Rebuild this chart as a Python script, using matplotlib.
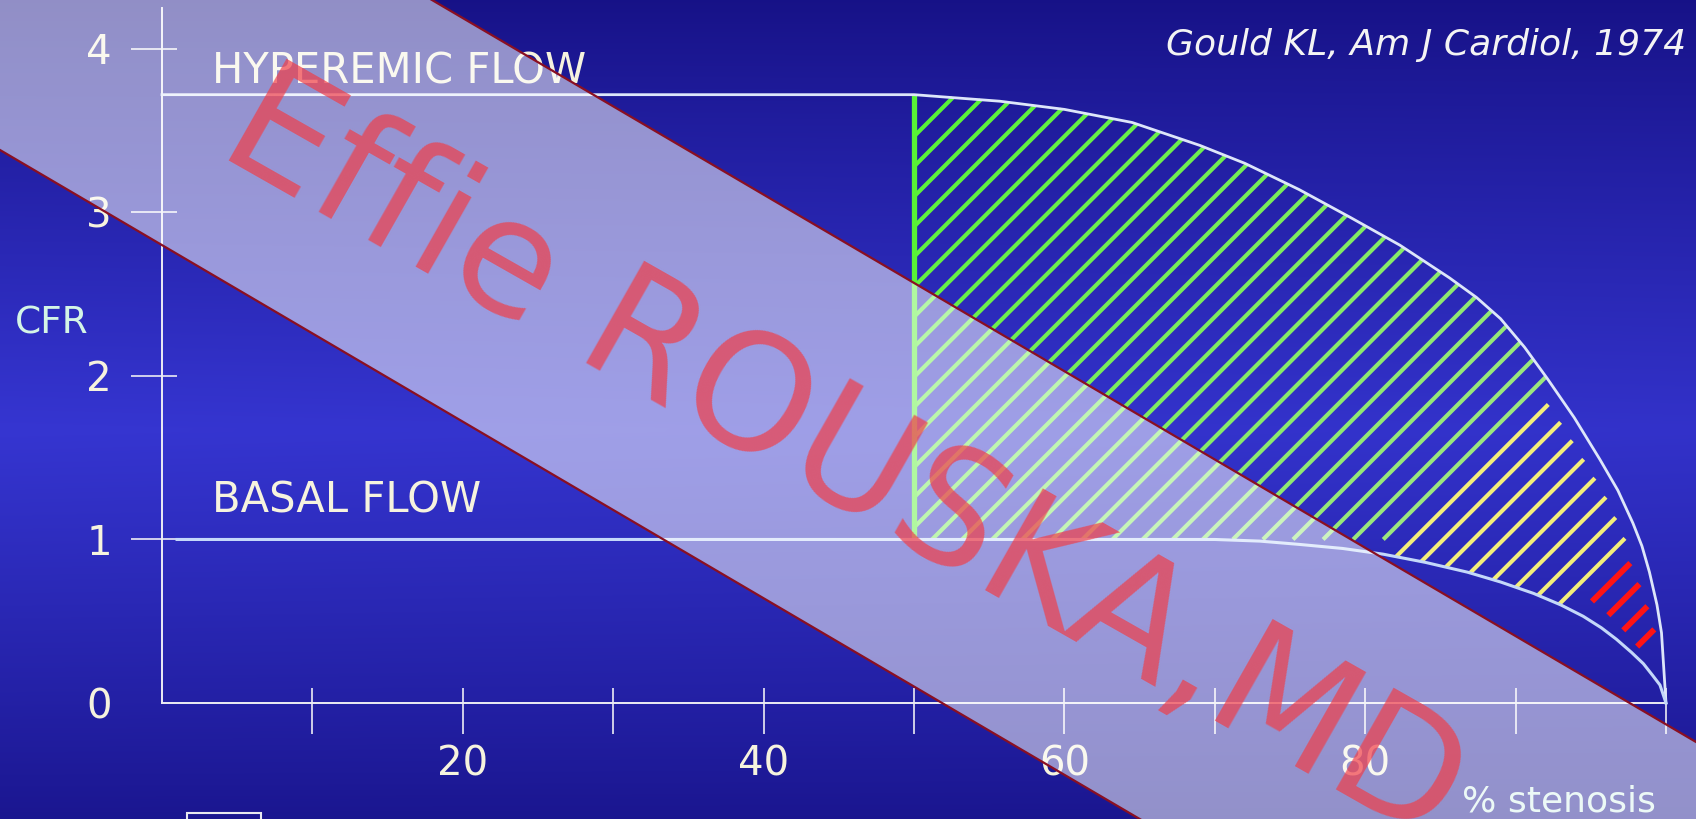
import numpy as np
import matplotlib
matplotlib.use("Agg")
import matplotlib.pyplot as plt
from matplotlib.collections import LineCollection
from matplotlib.colors import to_rgb
from matplotlib.patches import Polygon, Rectangle
from matplotlib.lines import Line2D
from matplotlib.ticker import FixedLocator

# hyperemic (maximal) flow reserve vs. % diameter stenosis
hyper_x = [0, 50, 55.7, 60, 64.5, 69, 72, 75.6, 79, 82.3, 85.6, 87.4, 89, 90.6, 92.1,
           93.9, 95.6, 96.8, 97.8, 98.4, 98.9, 99.4, 99.7, 100]
hyper_y = [3.72, 3.72, 3.68, 3.63, 3.55, 3.41, 3.30, 3.14, 2.97, 2.80, 2.60, 2.48, 2.35, 2.175, 1.985,
           1.745, 1.49, 1.30, 1.10, 0.96, 0.80, 0.60, 0.43, 0.0]

# basal (resting) flow
basal_x = [1, 50, 70, 73, 75.6, 78.5, 81.2, 84, 86.8, 89, 91.2, 93, 94.5, 95.7, 96.7,
           97.7, 98.5, 99.1, 99.6, 100]
basal_y = [1.0, 1.0, 1.0, 0.99, 0.97, 0.945, 0.91, 0.86, 0.80, 0.74, 0.67, 0.60, 0.53, 0.46, 0.39,
           0.31, 0.24, 0.17, 0.11, 0.0]

x_ticks = [10, 20, 30, 40, 50, 60, 70, 80, 90, 100]
x_labels = ["", "20", "", "40", "", "60", "", "80", "", ""]
y_ticks = [0, 1, 2, 3, 4]
y_labels = ["0", "1", "2", "3", "4"]

stenosis_cut = 50  # hatching starts at a 50 % stenosis

W, H, DPI = 1696, 819, 100
fig = plt.figure(figsize=(W / DPI, H / DPI), dpi=DPI)


def fx(px):
    return px / W


def fy(py):
    return 1 - py / H


# slide background: blue, brightest a little below the middle
bg = fig.add_axes([0, 0, 1, 1], zorder=-10)
bg.axis("off")
gy = np.linspace(0, H, 200)[:, None]
gx = np.linspace(0, W, 300)[None, :]
f = np.clip(1 - np.abs(gy - 430) / 430, 0, 1) ** 0.9 * (1 - 0.10 * gx / W)
dark = np.array([0.09, 0.07, 0.53])
light = np.array([0.21, 0.21, 0.82])
grad = dark + f[..., None] * (light - dark)
bg.imshow(grad, aspect="auto", extent=[0, 1, 0, 1], origin="upper", interpolation="bilinear")
bg.set_xlim(0, 1)
bg.set_ylim(0, 1)

ax = fig.add_axes([fx(162), fy(703), fx(1666 - 162), (703 - 8) / H])
ax.set_facecolor("none")
ax.set_xlim(0, 100)
ax.set_ylim(0, 4.25)
for s in ["top", "right"]:
    ax.spines[s].set_visible(False)
for s in ["left", "bottom"]:
    ax.spines[s].set_color("#ececf4")
    ax.spines[s].set_linewidth(1.4)

txt = "#f6f3de"
ax.xaxis.set_major_locator(FixedLocator(x_ticks))
ax.xaxis.set_minor_locator(FixedLocator(x_ticks))
ax.yaxis.set_major_locator(FixedLocator(y_ticks))
ax.yaxis.set_minor_locator(FixedLocator(y_ticks[1:]))
ax.xaxis.remove_overlapping_locs = False
ax.yaxis.remove_overlapping_locs = False
ax.set_xticklabels(x_labels)
ax.set_yticklabels(y_labels)
ax.tick_params(which="major", direction="out", length=22, width=1.2, color="#ececf4",
               labelsize=29, labelcolor=txt)
ax.tick_params(which="minor", direction="in", length=11, width=1.2, color="#ececf4")
ax.tick_params(axis="x", which="major", pad=8)
ax.tick_params(axis="y", which="major", pad=14)
ax.yaxis.get_major_ticks()[0].tick1line.set_visible(False)

# flow curves
ax.plot(hyper_x, hyper_y, color="#dde6fa", lw=2.0, clip_on=False, zorder=4)
ax.plot(basal_x, basal_y, color="#c4d8fa", lw=2.2, clip_on=False, zorder=4)

# 45 degree hatching between the curves beyond the cut-off
p0 = ax.transData.transform((0, 0))
p1 = ax.transData.transform((1, 1))
sx, sy = p1[0] - p0[0], p1[1] - p0[1]
slope = sx / sy

xs = np.linspace(stenosis_cut, 100, 5001)
hy = np.interp(xs, hyper_x, hyper_y)
by = np.interp(xs, basal_x, basal_y)


def crossing(a, curve):
    d = 1 + slope * (xs - a) - curve
    i = int(np.argmax(d >= 0))
    if i == 0:
        return None
    return xs[i - 1] + (xs[i] - xs[i - 1]) * (-d[i - 1]) / (d[i] - d[i - 1])


anchors = np.arange(23.2, 106, 2.0)
green_a, green_b = np.array(to_rgb("#58f236")), np.array(to_rgb("#9ce67e"))
n_green = int(np.sum(anchors < 82))
segs, cols, lws = [], [], []
for k, a in enumerate(anchors):
    x_hi = crossing(a, hy)
    if x_hi is None:
        continue
    if a < 82:
        x_lo = max(stenosis_cut, a)
        t = k / max(n_green - 1, 1)
        c = green_a + (green_b - green_a) * t
        lw = 3.0
    else:
        x_lo = crossing(a, by)
        if a < 98:
            c = to_rgb("#f4ee7a")
            lw = 3.0
            x_hi -= 10 / sx
        else:
            c = to_rgb("#ff1414")
            lw = 4.2
            span = x_hi - x_lo
            x_lo, x_hi = x_lo + 0.2 * span, x_hi - 0.2 * span
    segs.append([(x_lo, 1 + slope * (x_lo - a)), (x_hi, 1 + slope * (x_hi - a))])
    cols.append(c)
    lws.append(lw)
ax.add_collection(LineCollection(segs, colors=cols, linewidths=lws, capstyle="butt", zorder=3))
ax.plot([stenosis_cut, stenosis_cut], [1, np.interp(stenosis_cut, hyper_x, hyper_y)],
        color="#58f236", lw=3.8, solid_capstyle="butt", zorder=3)

# labels
ax.text(3.3, 3.79, "HYPEREMIC FLOW", fontsize=30, color=txt, va="baseline", ha="left")
ax.text(3.3, 1.163, "BASAL FLOW", fontsize=30, color=txt, va="baseline", ha="left")
fig.text(fx(15), fy(333), "CFR", fontsize=27, color="#d4f5e6", va="baseline", ha="left")
fig.text(fx(1656), fy(812), "% stenosis", fontsize=26, color="#d8f4ee", va="baseline", ha="right")
fig.text(fx(1686), fy(55), "Gould KL, Am J Cardiol, 1974", fontsize=26, style="italic",
         color="#f4f4f4", va="baseline", ha="right")
fig.add_artist(Rectangle((fx(187), fy(840)), fx(74), (840 - 813) / H, fill=False,
                         edgecolor="#e8e8f0", lw=1.5, transform=fig.transFigure, zorder=2))

# translucent diagonal banner with name
k_b = 0.587
up = [(-100, k_b * (-100 - 432)), (1800, k_b * (1800 - 432))]
lo = [(1800, 150 + k_b * 1800), (-100, 150 + k_b * -100)]
band = Polygon([(fx(x), fy(y)) for x, y in up + lo], closed=True, facecolor="white",
               alpha=0.53, edgecolor="none", transform=fig.transFigure, zorder=5)
fig.add_artist(band)
for (xa, ya), (xb, yb) in [(up[0], up[1]), (lo[0], lo[1])]:
    fig.add_artist(Line2D([fx(xa), fx(xb)], [fy(ya), fy(yb)], color="#8a0f22", lw=1.6,
                          transform=fig.transFigure, zorder=5.5))
fig.text(fx(214), fy(152), "Effie ROUSKA,MD", fontsize=116, family="DejaVu Sans",
         color=(240 / 255, 62 / 255, 72 / 255), alpha=0.7, rotation=-29.6,
         rotation_mode="anchor", ha="left", va="baseline", zorder=6)

fig.savefig("out.png", dpi=DPI)
